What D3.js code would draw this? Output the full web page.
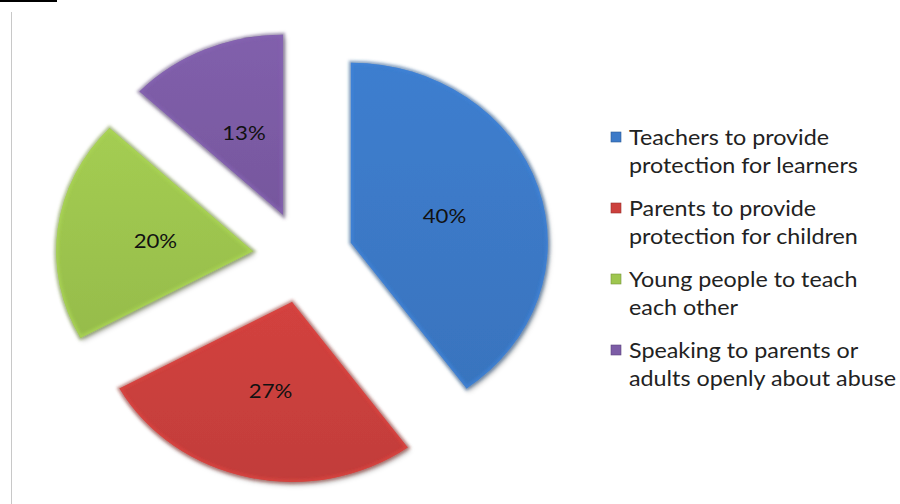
<!DOCTYPE html>
<html>
<head>
<meta charset="utf-8">
<script src="https://cdn.jsdelivr.net/npm/d3@7"></script>
<style>
  html, body { margin: 0; padding: 0; background: #fff; }
  svg { display: block; }
</style>
</head>
<body>
<svg id="chart" width="900" height="504"></svg>
<script>
// ---- data ----
const categories = [
  "Teachers to provide protection for learners",
  "Parents to provide protection for children",
  "Young people to teach each other",
  "Speaking to parents or adults openly about abuse"
];
const legendLines = [
  ["Teachers to provide", "protection for learners"],
  ["Parents to provide", "protection for children"],
  ["Young people to teach", "each other"],
  ["Speaking to parents or", "adults openly about abuse"]
];
const values = [40, 27, 20, 13];
const colors = ["#3c7ac8", "#cc403d", "#9ec64f", "#7c5ca6"];

// ---- layout ----
const W = 900, H = 504;
const cx = 303, cy = 257;
const R = 180, sx = 1.094, explode = 46;
const textSX = 1.11;

const svg = d3.select("#chart");
const defs = svg.append("defs");

defs.append("filter").attr("id", "shadow")
  .attr("x", "-20%").attr("y", "-20%").attr("width", "140%").attr("height", "140%")
  .append("feDropShadow")
  .attr("dx", 2).attr("dy", 3).attr("stdDeviation", 2.5)
  .attr("flood-color", "#000").attr("flood-opacity", 0.28);

defs.append("filter").attr("id", "blur")
  .append("feGaussianBlur").attr("stdDeviation", 1.5);

colors.forEach((c, i) => {
  const g = defs.append("linearGradient").attr("id", "grad" + i)
    .attr("x1", 0).attr("y1", 0).attr("x2", 0).attr("y2", 1);
  g.append("stop").attr("offset", "0%").attr("stop-color", d3.color(c).brighter(0.1));
  g.append("stop").attr("offset", "100%").attr("stop-color", d3.color(c).darker(0.15));
});

// frame lines
svg.append("line").attr("x1", 0).attr("x2", 57).attr("y1", 1).attr("y2", 1)
  .attr("stroke", "#000").attr("stroke-width", 2);
svg.append("line").attr("x1", 11.5).attr("x2", 11.5).attr("y1", 12).attr("y2", H)
  .attr("stroke", "#c8c8c8").attr("stroke-width", 1);

const pie = d3.pie().sort(null).value(d => d);
const arcs = pie(values);
const arc = d3.arc().innerRadius(0).outerRadius(R);

const pieG = svg.append("g").attr("transform", `translate(${cx},${cy}) scale(${sx},1)`);

arcs.forEach((a, i) => {
  const mid = (a.startAngle + a.endAngle) / 2;
  const ox = Math.sin(mid) * explode, oy = -Math.cos(mid) * explode;
  const sg = pieG.append("g").attr("transform", `translate(${ox},${oy})`);
  const d = arc(a);
  defs.append("clipPath").attr("id", "clip" + i).append("path").attr("d", d)
    .attr("transform", `translate(${cx + ox * sx},${cy + oy}) scale(${sx},1)`);
  sg.append("path").attr("d", d)
    .attr("fill", `url(#grad${i})`)
    .attr("filter", "url(#shadow)");
  sg.append("path").attr("d", d)
    .attr("fill", "none")
    .attr("stroke", d3.color(colors[i]).darker(0.9))
    .attr("stroke-opacity", 0.55)
    .attr("stroke-width", 4)
    .attr("vector-effect", "non-scaling-stroke")
    .attr("filter", "url(#blur)");
});

// inner bevel highlight (clipped)
arcs.forEach((a, i) => {
  const mid = (a.startAngle + a.endAngle) / 2;
  const ox = Math.sin(mid) * explode, oy = -Math.cos(mid) * explode;
  svg.append("g").attr("clip-path", `url(#clip${i})`)
    .append("path").attr("d", arc(a))
    .attr("transform", `translate(${cx + ox * sx},${cy + oy}) scale(${sx},1)`)
    .attr("fill", "none")
    .attr("stroke", d3.color(colors[i]).brighter(0.6))
    .attr("stroke-opacity", 0.55)
    .attr("stroke-width", 5)
    .attr("vector-effect", "non-scaling-stroke")
    .attr("filter", "url(#blur)");
});

// percentage labels
const total = d3.sum(values);
arcs.forEach((a, i) => {
  const mid = (a.startAngle + a.endAngle) / 2;
  const dist = explode + R * 0.5;
  const x = cx + Math.sin(mid) * dist * sx;
  const y = cy - Math.cos(mid) * dist;
  svg.append("text")
    .attr("transform", `translate(${x},${y}) scale(${textSX},1)`)
    .attr("text-anchor", "middle")
    .attr("dominant-baseline", "central")
    .attr("font-family", "Lato, 'Open Sans', sans-serif")
    .attr("font-size", 20)
    .attr("fill", "#111")
    .text(Math.round(values[i] / total * 100) + "%");
});

// legend
const legend = svg.append("g").attr("transform", "translate(611,0)");
const legendY = d3.scalePoint().domain(categories).range([137, 350]);
categories.forEach((c, i) => {
  const y = legendY(c);
  const lg = legend.append("g").attr("transform", `translate(0,${y})`);
  lg.append("rect").attr("x", 0).attr("y", -5).attr("width", 10).attr("height", 10)
    .attr("fill", colors[i]).attr("stroke", d3.color(colors[i]).darker(0.8)).attr("stroke-width", 0.6);
  legendLines[i].forEach((t, j) => {
    lg.append("text")
      .attr("transform", `translate(18,${j * 28}) scale(${textSX},1)`)
      .attr("dominant-baseline", "central")
      .attr("font-family", "Lato, 'Open Sans', sans-serif")
      .attr("font-size", 21)
      .attr("fill", "#222")
      .text(t);
  });
});
</script>
</body>
</html>
